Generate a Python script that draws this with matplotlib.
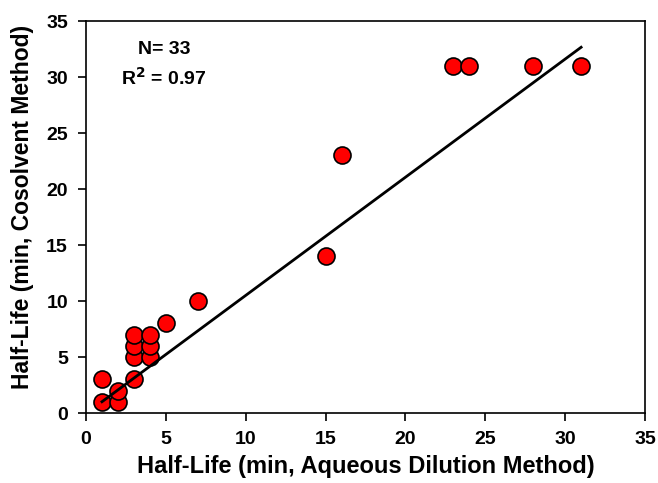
import matplotlib.pyplot as plt
import numpy as np

plt.rcParams['font.family'] = ['Liberation Sans', 'DejaVu Sans']
plt.rcParams['font.weight'] = 'bold'

# half-life pairs (min): aqueous dilution vs cosolvent
aqueous = [1, 1, 2, 2, 3, 3, 3, 3, 4, 4, 4, 5, 7, 15, 16, 23, 24, 28, 31]
cosolvent = [1, 3, 1, 2, 3, 5, 6, 7, 5, 6, 7, 8, 10, 14, 23, 31, 31, 31, 31]

# regression line
fit_slope = 1.055
fit_intercept = -0.05
fit_x = [1, 31]

ticks = [0, 5, 10, 15, 20, 25, 30, 35]

fig = plt.figure(figsize=(6.58, 4.83), dpi=100)
ax = fig.add_axes([86 / 658, 70 / 483, 559 / 658, 392 / 483])

fx = np.array(fit_x)
ax.plot(fx, fit_slope * fx + fit_intercept, color="black", linewidth=2, zorder=3)
ax.scatter(aqueous, cosolvent, s=150, color="#ff0000", edgecolors="black",
           linewidths=1.2, zorder=2)

ax.set_xlim(0, 35)
ax.set_ylim(0, 35)
ax.set_xticks(ticks)
ax.set_yticks(ticks)
ax.tick_params(direction="out", length=6, width=1.2, labelsize=14, pad=7)
for s in ax.spines.values():
    s.set_linewidth(1.2)

ax.set_xlabel("Half-Life (min, Aqueous Dilution Method)", fontsize=17, fontweight="bold", labelpad=5)
ax.set_ylabel("Half-Life (min, Cosolvent Method)", fontsize=16.5, fontweight="bold")
ax.yaxis.set_label_coords(-0.093, 0.525)

ax.text(4.9, 32.5, "N= 33", ha="center", va="center", fontsize=14, fontweight="bold")
ax.text(4.9, 29.9, r"R$^\mathbf{2}$ = 0.97", ha="center", va="center", fontsize=14, fontweight="bold")

fig.savefig("out.png", dpi=100)
